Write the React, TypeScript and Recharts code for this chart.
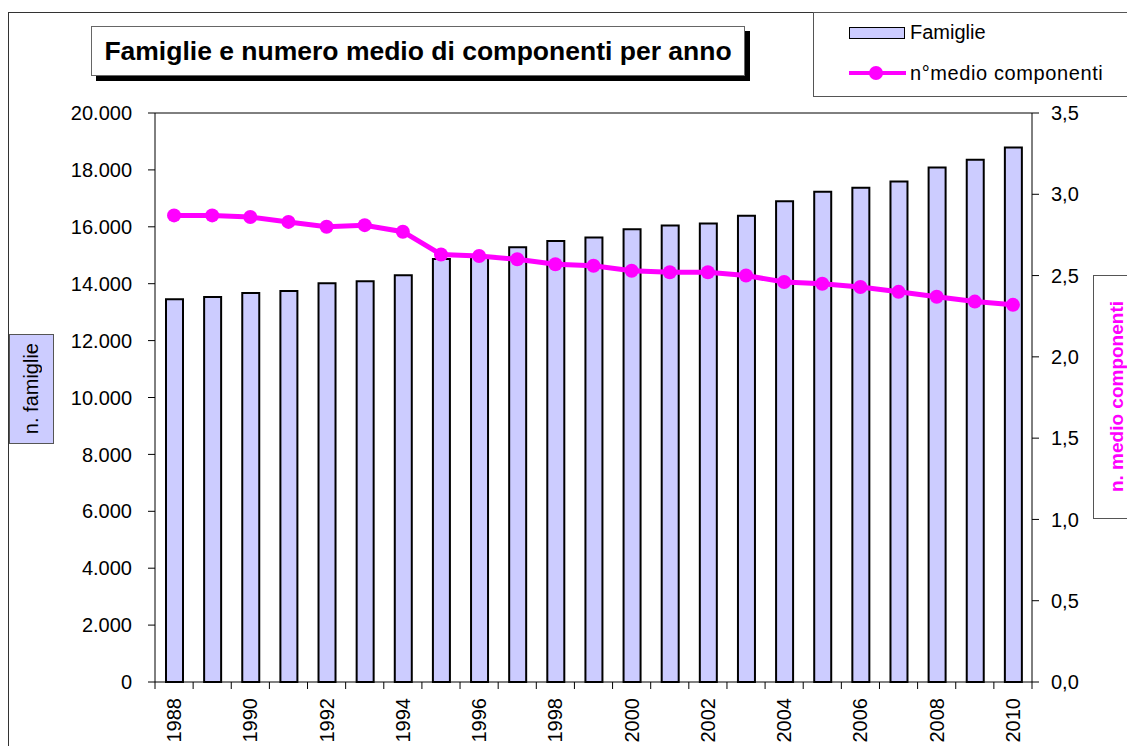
import { Bar, ComposedChart, Line, ReferenceLine, XAxis, YAxis } from 'recharts';

const years = [
  '1988', '1989', '1990', '1991', '1992', '1993', '1994', '1995', '1996', '1997', '1998', '1999',
  '2000', '2001', '2002', '2003', '2004', '2005', '2006', '2007', '2008', '2009', '2010'
];
const famiglie = [
  13450, 13530, 13670, 13740, 14020, 14090, 14300, 14870, 14950, 15280, 15500, 15620,
  15910, 16050, 16120, 16390, 16900, 17230, 17370, 17590, 18080, 18360, 18790
];
const componenti = [
  2.87, 2.87, 2.86, 2.83, 2.8, 2.81, 2.77, 2.63, 2.62, 2.6, 2.57, 2.56,
  2.53, 2.52, 2.52, 2.5, 2.46, 2.45, 2.43, 2.4, 2.37, 2.34, 2.32
];
const leftTicks = [0, 2000, 4000, 6000, 8000, 10000, 12000, 14000, 16000, 18000, 20000];
const rightTicks = [0, 0.5, 1, 1.5, 2, 2.5, 3, 3.5];

const W = 1127;
const H = 746;
const PLOT_LEFT = 155;
const PLOT_RIGHT = 1032;
const BAND = (PLOT_RIGHT - PLOT_LEFT) / years.length;
const FONT = '"Liberation Sans", Arial, sans-serif';
const BAR_FILL = '#ccccff';
const MAGENTA = '#ff00ff';

const data = years.map((year, i) => ({
  year,
  famiglie: famiglie[i],
  componenti: componenti[i]
}));

function formatThousands(value: number) {
  return String(value).replace(/\B(?=(\d{3})+(?!\d))/g, '.');
}

function formatDecimal(value: number) {
  return value.toFixed(1).replace('.', ',');
}

function YearTick(props: any) {
  const { x, y, payload, index } = props;
  const showLabel = index % 2 === 0;
  const last = index === years.length - 1;
  const ty = y + 16;

  return (
    <g>
      <line x1={x - BAND / 2} x2={x - BAND / 2} y1={y} y2={y + 7} stroke="#000" />
      {last ? <line x1={x + BAND / 2} x2={x + BAND / 2} y1={y} y2={y + 7} stroke="#000" /> : null}
      {showLabel ? (
        <text
          x={x}
          y={ty}
          transform={`rotate(-90, ${x}, ${ty})`}
          textAnchor="end"
          dominantBaseline="central"
          fontSize={20}
          fontFamily={FONT}
          fill="#000"
        >
          {payload.value}
        </text>
      ) : null}
    </g>
  );
}

export default function App() {
  return (
    <div
      style={{
        position: 'absolute',
        left: 0,
        top: 0,
        width: W,
        height: H,
        overflow: 'hidden',
        background: '#fff',
        fontFamily: FONT
      }}
    >
      {/* outer chart frame */}
      <div
        style={{
          position: 'absolute',
          left: 8,
          top: 12,
          width: 1300,
          height: 900,
          border: '1px solid #333'
        }}
      />

      <ComposedChart
        width={W}
        height={H}
        data={data}
        margin={{ top: 113, right: 0, bottom: 0, left: 0 }}
        style={{ position: 'absolute', left: 0, top: 0 }}
      >
        <XAxis
          dataKey="year"
          interval={0}
          height={64}
          tickSize={0}
          tickMargin={0}
          tickLine={false}
          axisLine={{ stroke: '#000', strokeWidth: 1 }}
          tick={<YearTick />}
        />
        <YAxis
          yAxisId="left"
          width={155}
          domain={[0, 20000]}
          ticks={leftTicks}
          tickFormatter={formatThousands}
          tickSize={7}
          tickMargin={16}
          axisLine={{ stroke: '#000' }}
          tickLine={{ stroke: '#000' }}
          tick={{ fill: '#000', fontSize: 20, fontFamily: FONT }}
        />
        <YAxis
          yAxisId="right"
          orientation="right"
          width={95}
          domain={[0, 3.5]}
          ticks={rightTicks}
          tickFormatter={formatDecimal}
          tickSize={7}
          tickMargin={12}
          axisLine={{ stroke: '#000' }}
          tickLine={{ stroke: '#000' }}
          tick={{ fill: '#000', fontSize: 20, fontFamily: FONT }}
        />
        <ReferenceLine yAxisId="left" y={20000} stroke="#000" />
        <Bar
          yAxisId="left"
          dataKey="famiglie"
          name="Famiglie"
          fill={BAR_FILL}
          stroke="#000"
          strokeWidth={2}
          barSize={17}
          isAnimationActive={false}
        />
        <Line
          yAxisId="right"
          dataKey="componenti"
          name="n°medio componenti"
          type="linear"
          stroke={MAGENTA}
          strokeWidth={5}
          dot={{ r: 7, fill: MAGENTA, stroke: MAGENTA, strokeWidth: 0 }}
          isAnimationActive={false}
        />
      </ComposedChart>

      {/* title */}
      <div
        style={{
          position: 'absolute',
          left: 91,
          top: 26,
          width: 652,
          height: 48,
          border: '1px solid #666',
          background: '#fff',
          boxShadow: '5px 5px 0 #000',
          display: 'flex',
          alignItems: 'center',
          justifyContent: 'center',
          whiteSpace: 'nowrap',
          fontWeight: 700,
          fontSize: 26.5,
          color: '#000'
        }}
      >
        Famiglie e numero medio di componenti per anno
      </div>

      {/* legend */}
      <div
        style={{
          position: 'absolute',
          left: 813,
          top: 12,
          width: 330,
          height: 83,
          border: '1px solid #555',
          background: '#fff',
          fontSize: 20,
          color: '#000'
        }}
      >
        <div
          style={{
            position: 'absolute',
            left: 35,
            top: 14,
            width: 54,
            height: 10,
            background: BAR_FILL,
            border: '1px solid #000'
          }}
        />
        <div style={{ position: 'absolute', left: 96, top: 7, lineHeight: '24px' }}>Famiglie</div>
        <div
          style={{
            position: 'absolute',
            left: 35,
            top: 58,
            width: 57,
            height: 4,
            background: MAGENTA
          }}
        />
        <div
          style={{
            position: 'absolute',
            left: 55,
            top: 53,
            width: 14,
            height: 14,
            borderRadius: '50%',
            background: MAGENTA
          }}
        />
        <div
          style={{
            position: 'absolute',
            left: 96,
            top: 48,
            lineHeight: '24px',
            letterSpacing: 0.6,
            whiteSpace: 'nowrap'
          }}
        >
          n°medio componenti
        </div>
      </div>

      {/* left axis title */}
      <div
        style={{
          position: 'absolute',
          left: 9,
          top: 334,
          width: 43,
          height: 108,
          background: BAR_FILL,
          border: '1px solid #555',
          display: 'flex',
          alignItems: 'center',
          justifyContent: 'center'
        }}
      >
        <span style={{ writingMode: 'vertical-rl', transform: 'rotate(180deg)', fontSize: 20, color: '#000' }}>
          n. famiglie
        </span>
      </div>

      {/* right axis title */}
      <div
        style={{
          position: 'absolute',
          left: 1093,
          top: 275,
          width: 44,
          height: 244,
          background: '#fff',
          border: '1px solid #555',
          display: 'flex',
          alignItems: 'center',
          justifyContent: 'flex-start',
          paddingLeft: 12,
          boxSizing: 'border-box'
        }}
      >
        <span
          style={{
            writingMode: 'vertical-rl',
            transform: 'rotate(180deg)',
            fontSize: 19,
            fontWeight: 700,
            whiteSpace: 'nowrap',
            color: MAGENTA
          }}
        >
          n. medio componenti
        </span>
      </div>
    </div>
  );
}
